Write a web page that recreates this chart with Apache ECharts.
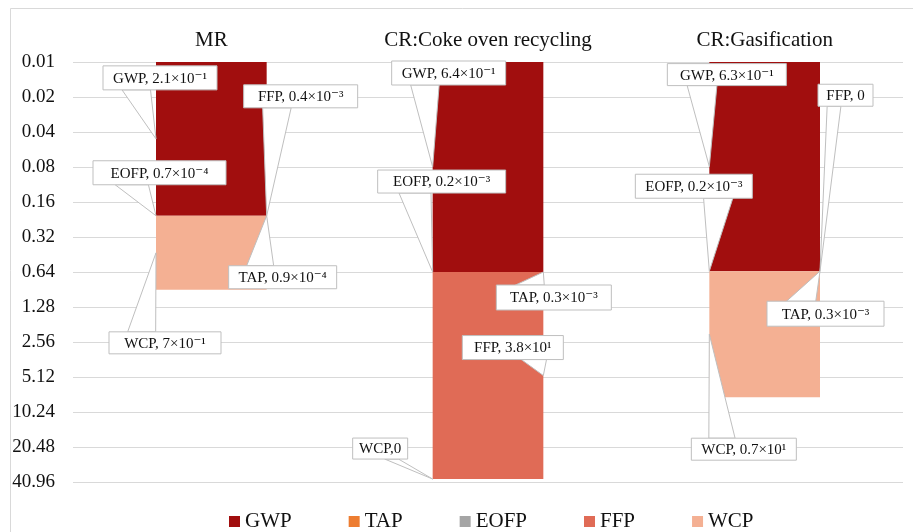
<!DOCTYPE html>
<html><head><meta charset="utf-8">
<script src="https://cdn.jsdelivr.net/npm/echarts@6/dist/echarts.min.js"></script>
<style>html,body{margin:0;padding:0;background:#fff}#c{width:913px;height:532px}</style>
</head><body><div id="c"></div>
<script>
// ---- data ----
const categories = ['MR', 'CR:Coke oven recycling', 'CR:Gasification'];
const seriesNames = ['GWP', 'TAP', 'EOFP', 'FFP', 'WCP'];
const GWP  = [0.21, 0.64, 0.63];
const TAP  = [0.00009, 0.0003, 0.0003];
const EOFP = [0.00007, 0.0002, 0.0002];
const FFP  = [0.0004, 38, 0];
const WCP  = [0.7, 0, 7];
const tickLabels = ['0.01','0.02','0.04','0.08','0.16','0.32','0.64','1.28','2.56','5.12','10.24','20.48','40.96'];
const labelGWP  = ['GWP, 2.1×10⁻¹', 'GWP, 6.4×10⁻¹', 'GWP, 6.3×10⁻¹'];
const labelTAP  = ['TAP, 0.9×10⁻⁴', 'TAP, 0.3×10⁻³', 'TAP, 0.3×10⁻³'];
const labelEOFP = ['EOFP, 0.7×10⁻⁴', 'EOFP, 0.2×10⁻³', 'EOFP, 0.2×10⁻³'];
const labelFFP  = ['FFP, 0.4×10⁻³', 'FFP, 3.8×10¹', 'FFP, 0'];
const labelWCP  = ['WCP, 7×10⁻¹', 'WCP,0', 'WCP, 0.7×10¹'];

// ---- styling / layout ----
const colors = ['#A10E0E', '#ED7D31', '#A5A5A5', '#E06B56', '#F4B093'];
const FONT = '"Liberation Serif", "DejaVu Serif", serif';
const BASE = 0.01;          // axis origin (0.01 at the top)
const BAR_RATIO = 0.4;      // bar width / band width
// callout box placement relative to its anchor: [series, category, side, dx, dy, w, h]
const calloutLayout = [
  ['GWP', 0, 'L', -53, -73, 114, 24],
  ['FFP', 0, 'R', -23, -131, 114, 23],
  ['EOFP',0, 'L', -63, -55, 133, 24],
  ['TAP', 0, 'R', -38, 50, 108, 23],
  ['WCP', 0, 'L', -47, 79, 112, 22],
  ['GWP', 1, 'L', -41, -106, 114, 24],
  ['EOFP',1, 'L', -55, -102, 128, 23],
  ['TAP', 1, 'R', -47, 13, 115, 25],
  ['FFP', 1, 'R', -81, -40, 101, 24],
  ['WCP', 1, 'L', -80, -41, 55, 21],
  ['GWP', 2, 'L', -42, -103, 119, 22],
  ['FFP', 2, 'R', -2, -187, 55, 22],
  ['EOFP',2, 'L', -74, -97, 117, 24],
  ['TAP', 2, 'R', -53, 30, 117, 25],
  ['WCP', 2, 'L', -18, 104, 105, 22]
];

const valuesBySeries = [GWP, TAP, EOFP, FFP, WCP];
const labelsBySeries = [labelGWP, labelTAP, labelEOFP, labelFFP, labelWCP];
const pos = v => Math.log2(v / BASE);

// stacked segments in log2 space
const increments = seriesNames.map(() => []);
const mids = seriesNames.map(() => []);
categories.forEach((c, i) => {
  let cum = 0;
  valuesBySeries.forEach((arr, s) => {
    const startPos = cum > 0 ? pos(cum) : 0;
    cum += arr[i];
    const endPos = pos(cum);
    increments[s].push(endPos - startPos);
    mids[s].push((startPos + endPos) / 2);
  });
});

const callouts = calloutLayout.map(l => {
  const s = seriesNames.indexOf(l[0]);
  return { s, cat: l[1], side: l[2], dx: l[3], dy: l[4], w: l[5], h: l[6], text: labelsBySeries[s][l[1]] };
});

const barSeries = seriesNames.map((name, s) => ({
  name, type: 'bar', stack: 'total', barWidth: (BAR_RATIO * 100) + '%',
  data: increments[s], itemStyle: { color: colors[s] }, silent: true
}));

const calloutSeries = {
  name: 'callouts', type: 'custom', z: 10, silent: true,
  data: callouts.map(c => [c.cat, mids[c.s][c.cat]]),
  renderItem(params, api) {
    const c = callouts[params.dataIndex];
    const p = api.coord([api.value(0), api.value(1)]);
    const band = api.size([1, 0])[0];
    const half = band * BAR_RATIO / 2;
    const ax = p[0] + (c.side === 'L' ? -half : half), ay = p[1];
    const bx = ax + c.dx, by = ay + c.dy, bw = c.w, bh = c.h;
    const cx = bx + bw / 2, cy = by + bh / 2;
    const dx = ax - cx, dy = ay - cy;
    const dq = dx * bh / bw;
    let b1, b2;
    if (Math.abs(dy) >= Math.abs(dq)) {
      const ey = dy > 0 ? by + bh : by;
      const g1 = dx > 0 ? 7 : 2, g2 = dx > 0 ? 10 : 5;
      b1 = [bx + bw * g1 / 12, ey]; b2 = [bx + bw * g2 / 12, ey];
    } else {
      const ex = dx > 0 ? bx + bw : bx;
      const g1 = dy > 0 ? 7 : 2, g2 = dy > 0 ? 10 : 5;
      b1 = [ex, by + bh * g1 / 12]; b2 = [ex, by + bh * g2 / 12];
    }
    return {
      type: 'group',
      children: [
        { type: 'polygon', shape: { points: [b1, [ax, ay], b2] }, style: { fill: '#fff', stroke: '#bfbfbf', lineWidth: 1 } },
        { type: 'rect', shape: { x: bx, y: by, width: bw, height: bh }, style: { fill: '#fff', stroke: '#bfbfbf', lineWidth: 1 } },
        { type: 'text', x: cx, y: cy + 1, style: { text: c.text, fill: '#111', font: '15px ' + FONT, align: 'center', verticalAlign: 'middle' } }
      ]
    };
  }
};

const chart = echarts.init(document.getElementById('c'));
chart.setOption({
  animation: false,
  backgroundColor: '#fff',
  color: colors,
  graphic: [{ type: 'rect', left: 8, top: 6, shape: { width: 940, height: 560 }, style: { fill: 'none', stroke: '#d9d9d9', lineWidth: 1 }, silent: true, z: -10 }],
  grid: { left: 73, right: 10, top: 62, bottom: 50 },
  xAxis: {
    type: 'category', position: 'top', data: categories,
    axisLine: { show: false, onZero: false }, axisTick: { show: false },
    axisLabel: { fontFamily: FONT, fontSize: 21, color: '#111', margin: 11 }
  },
  yAxis: {
    type: 'value', inverse: true, min: 0, max: tickLabels.length - 1, interval: 1,
    axisLine: { show: false }, axisTick: { show: false },
    axisLabel: { fontFamily: FONT, fontSize: 19, color: '#111', margin: 18, formatter: v => tickLabels[v] },
    splitLine: { lineStyle: { color: '#d9d9d9', width: 1 } }
  },
  legend: {
    data: seriesNames, top: 506, left: 224, itemGap: 57, itemWidth: 11, itemHeight: 11, icon: 'rect',
    textStyle: { fontFamily: FONT, fontSize: 21, color: '#111' }, selectedMode: false
  },
  series: [...barSeries, calloutSeries]
});
</script>
</body></html>
